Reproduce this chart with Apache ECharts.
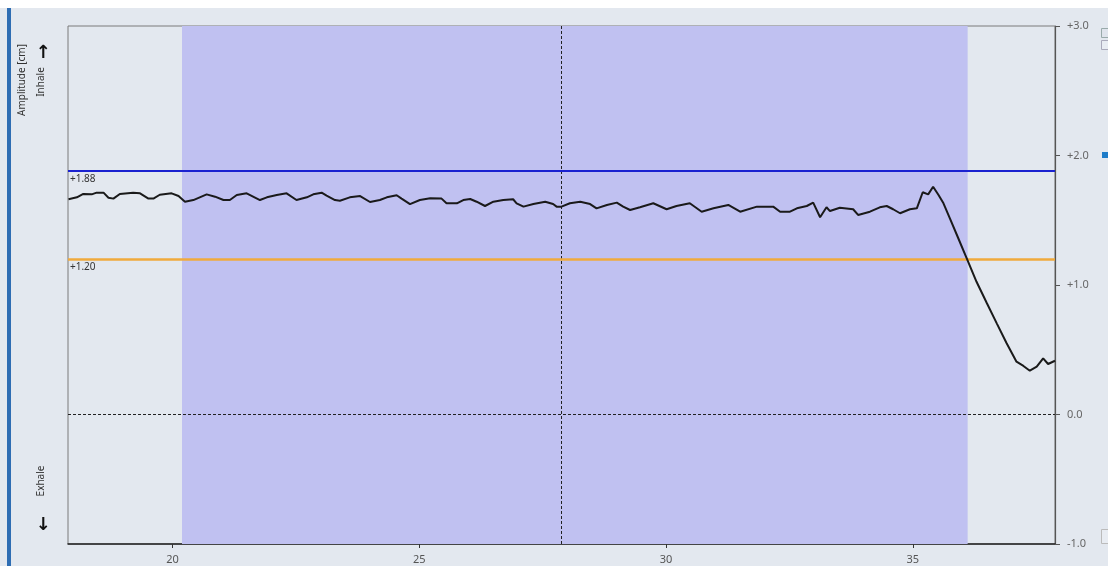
<!DOCTYPE html>
<html>
<head>
<meta charset="utf-8">
<script src="https://cdn.jsdelivr.net/npm/echarts@6/dist/echarts.min.js"></script>
<style>
html,body{margin:0;padding:0;background:#ffffff;}
#chart{width:1108px;height:566px;}
</style>
</head>
<body>
<div id="chart"></div>
<script>
// ---- data (time in s, amplitude in cm) ----
const timeS = [17.89,18.06,18.19,18.36,18.46,18.60,18.70,18.80,18.93,19.20,19.34,19.51,19.61,19.74,19.98,20.12,20.25,20.42,20.69,20.86,21.03,21.16,21.30,21.50,21.77,21.91,22.11,22.31,22.51,22.72,22.85,23.02,23.12,23.29,23.39,23.59,23.80,24.00,24.20,24.34,24.54,24.64,24.81,25.01,25.22,25.45,25.55,25.76,25.89,26.03,26.16,26.33,26.50,26.70,26.90,26.97,27.11,27.31,27.55,27.71,27.78,27.88,28.05,28.26,28.46,28.59,28.80,29.00,29.13,29.27,29.47,29.74,30.01,30.21,30.48,30.72,30.96,31.26,31.50,31.84,32.17,32.31,32.51,32.65,32.85,32.98,33.12,33.25,33.32,33.52,33.79,33.89,34.13,34.33,34.47,34.60,34.74,34.94,35.08,35.20,35.31,35.41,35.52,35.62,35.75,35.92,36.10,36.29,36.50,36.70,36.90,37.10,37.24,37.37,37.51,37.64,37.74,37.88];
const ampCm = [1.662,1.677,1.703,1.700,1.713,1.713,1.674,1.667,1.703,1.713,1.708,1.667,1.667,1.697,1.708,1.687,1.643,1.656,1.700,1.682,1.656,1.656,1.695,1.708,1.656,1.677,1.695,1.708,1.656,1.677,1.700,1.713,1.690,1.656,1.651,1.677,1.687,1.641,1.656,1.677,1.693,1.667,1.625,1.656,1.670,1.667,1.631,1.631,1.656,1.664,1.643,1.610,1.643,1.656,1.662,1.631,1.605,1.625,1.643,1.625,1.605,1.605,1.631,1.643,1.625,1.592,1.618,1.636,1.605,1.579,1.600,1.631,1.585,1.610,1.631,1.566,1.592,1.618,1.566,1.605,1.605,1.566,1.566,1.592,1.610,1.636,1.523,1.600,1.571,1.597,1.585,1.541,1.566,1.600,1.610,1.585,1.554,1.585,1.592,1.716,1.700,1.759,1.695,1.631,1.515,1.361,1.198,1.025,0.859,0.704,0.550,0.408,0.375,0.338,0.369,0.434,0.390,0.415];
const yTicks = [-1, 0, 1, 2, 3];
const xTickValues = [20, 25, 30, 35];
const xRange = [17.88, 37.88];
const gateWindow = [20.19, 36.11];
const cursorTime = 27.87;
const upperThreshold = 1.88;
const lowerThreshold = 1.20;
const baseline = 0;

const lineData = timeS.map((t, i) => [t, ampCm[i]]);

const chart = echarts.init(document.getElementById('chart'), null, {renderer: 'canvas'});
const bg = '#e3e8ef';
const txtFont = 'Noto Sans';
chart.setOption({
  backgroundColor: bg,
  animation: false,
  grid: {left: 68, right: 53, top: 26, bottom: 22, show: true, borderColor: '#7a7a7a', borderWidth: 1, backgroundColor: 'transparent'},
  xAxis: {
    type: 'value', min: xRange[0], max: xRange[1],
    splitLine: {show: false},
    axisLine: {show: true, onZero: false, lineStyle: {color: '#222', width: 1.5}},
    axisTick: {show: true, length: 4, customValues: xTickValues, lineStyle: {color: '#333'}},
    axisLabel: {customValues: xTickValues, color: '#555', fontSize: 11, margin: 10, fontFamily: txtFont}
  },
  yAxis: {
    type: 'value', position: 'right', min: yTicks[0], max: yTicks[yTicks.length-1], interval: 1,
    splitLine: {show: false},
    axisLine: {show: true, lineStyle: {color: '#555', width: 1.2}},
    axisTick: {show: true, inside: false, length: 5, lineStyle: {color: '#555'}},
    axisLabel: {color: '#666', fontSize: 11, margin: 12, fontFamily: txtFont,
      formatter: v => v > 0 ? '+' + v.toFixed(1) : v.toFixed(1)}
  },
  series: [
    {
      type: 'line', data: [], silent: true,
      markArea: {silent: true, itemStyle: {color: '#c0c1f1', opacity: 1},
        data: [[{xAxis: gateWindow[0]}, {xAxis: gateWindow[1]}]]}
    },
    {
      type: 'line', data: [], silent: true,
      markLine: {silent: true, symbol: 'none', animation: false,
        data: [
          {xAxis: cursorTime, lineStyle: {color: '#222', type: [3, 2], width: 1}, label: {show: false}},
          {yAxis: baseline, lineStyle: {color: '#222', type: [3, 2], width: 1}, label: {show: false}},
          {yAxis: upperThreshold, lineStyle: {color: '#1a22d0', type: 'solid', width: 2.2},
            label: {show: true, position: 'insideStartBottom', formatter: '+1.88', color: '#333', fontSize: 10, distance: [2, 3], fontFamily: txtFont}},
          {yAxis: lowerThreshold, lineStyle: {color: '#f0aa3c', type: 'solid', width: 2.5},
            label: {show: true, position: 'insideStartBottom', formatter: '+1.20', color: '#333', fontSize: 10, distance: [2, 3], fontFamily: txtFont}}
        ]}
    },
    {
      type: 'line', data: lineData, showSymbol: false, smooth: false, silent: true,
      lineStyle: {color: '#1a1a1a', width: 2}, z: 5
    }
  ],
  graphic: [
    {type: 'rect', left: 0, top: 0, shape: {width: 1108, height: 8}, style: {fill: '#ffffff'}, silent: true},
    {type: 'rect', left: 7, top: 8, shape: {width: 4, height: 558}, style: {fill: '#2e6db3'}, silent: true},
    {type: 'text', x: 17, y: 80, rotation: Math.PI/2, style: {text: 'Amplitude [cm]', fill: '#333', font: '10px "Noto Sans"', align: 'center', verticalAlign: 'top'}},
    {type: 'text', x: 36, y: 82, rotation: Math.PI/2, style: {text: 'Inhale', fill: '#333', font: '10px "Noto Sans"', align: 'center', verticalAlign: 'top'}},
    {type: 'text', x: 36, y: 481, rotation: Math.PI/2, style: {text: 'Exhale', fill: '#333', font: '10px "Noto Sans"', align: 'center', verticalAlign: 'top'}},
    {type: 'text', x: 43, y: 53, style: {text: '↑', fill: '#111', font: 'bold 18px "DejaVu Sans"', align: 'center', verticalAlign: 'middle'}},
    {type: 'text', x: 43, y: 525, style: {text: '↓', fill: '#111', font: 'bold 18px "DejaVu Sans"', align: 'center', verticalAlign: 'middle'}},
    {type: 'rect', left: 1101, top: 28, shape: {width: 8, height: 9}, style: {fill: '#dfe4ec', stroke: '#9aa', lineWidth: 1}, silent: true},
    {type: 'rect', left: 1101, top: 40, shape: {width: 8, height: 9}, style: {fill: '#e8ecf2', stroke: '#aab', lineWidth: 1}, silent: true},
    {type: 'rect', left: 1102, top: 152, shape: {width: 6, height: 6}, style: {fill: '#1e7cc8'}, silent: true},
    {type: 'rect', left: 1101, top: 529, shape: {width: 8, height: 14}, style: {fill: '#e8ecf2', stroke: '#bbb', lineWidth: 1}, silent: true}
  ]
});
</script>
</body>
</html>
